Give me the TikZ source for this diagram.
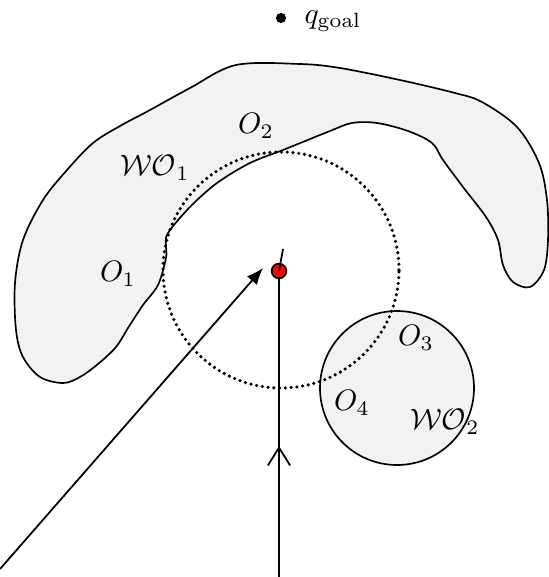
\documentclass[tikz,border=0pt]{standalone}
\usepackage{amsmath}
\usepackage{amssymb}
\usetikzlibrary{arrows.meta}
\usetikzlibrary{decorations.markings}

\tikzset{
  obst/.style={draw,line width=0.75pt,fill=gray!10},
  sensing/.style={line width=1.6pt,dash pattern=on 0pt off 2.6pt,line cap=round},
  lbl/.style={inner sep=1pt,scale=1.33},
}

\begin{document}
\begin{tikzpicture}[x=0.45pt,y=-0.45pt]
\useasboundingbox (0,0) rectangle (548,577);
% workspace obstacle WO1
\draw[obst] plot[smooth cycle,tension=0.55] coordinates {
  (236,65) (300,64) (340,68) (400,80) (455,93) (482,102) (517,127)
  (539,163) (547,200) (548,240) (544,270) (530,287) (513,282) (503,265)
  (498,240) (486,217) (463,187) (443,160) (432,143) (408,131) (377,123)
  (352,123) (330,131) (283,150) (250,163) (217,183) (190,207) (168,233)
  (166,246) (166,258) (158,285) (143,305) (128,328) (116,347) (98,364)
  (80,377) (63,383) (40,377) (23,357) (16,330) (15,283) (23,240) (43,200)
  (67,170) (93,143) (120,126) (150,110) (190,88)};
% workspace obstacle WO2
\draw[obst] (397,388) circle[radius=34.65pt];
% sensing range
\draw[sensing] (281,270) circle[radius=53.1pt];

\node[circle,fill,inner sep=0pt,minimum size=4.6pt] (goal) at (281,18) {};
\node[lbl,anchor=west] (qgoal) at (301,21) {\(q_{\mathrm{goal}}\)};

\node[lbl] (o2) at (256,126) {\(O_2\)};
\node[lbl] (wo1) at (155,168) {\(\mathcal{WO}_1\)};
\node[lbl] (o1) at (118,274) {\(O_1\)};
\node[lbl] (o3) at (416,338) {\(O_3\)};
\node[lbl] (o4) at (352,403) {\(O_4\)};
\node[lbl] (wo2) at (445,422) {\(\mathcal{WO}_2\)};

\node[circle,draw,fill=red,line width=0.8pt,inner sep=0pt,minimum size=6.6pt] (robot) at (279,271) {};
\draw[line width=0.8pt] (robot.center) .. controls (281,260) .. (283,249);

\coordinate (start) at (279,577);
\draw[line width=0.8pt,postaction={decorate},
  decoration={markings,mark=at position 0.44 with {\arrow{Straight Barb[length=8pt,width=10pt,line width=0.8pt]}}}]
  (start) -- (robot);

\coordinate (src) at (0,569);
\coordinate (tip) at (263,268);
\draw[line width=0.8pt,-{Latex[length=7.5pt,width=6pt]}] (src) -- (tip);
\end{tikzpicture}
\end{document}
